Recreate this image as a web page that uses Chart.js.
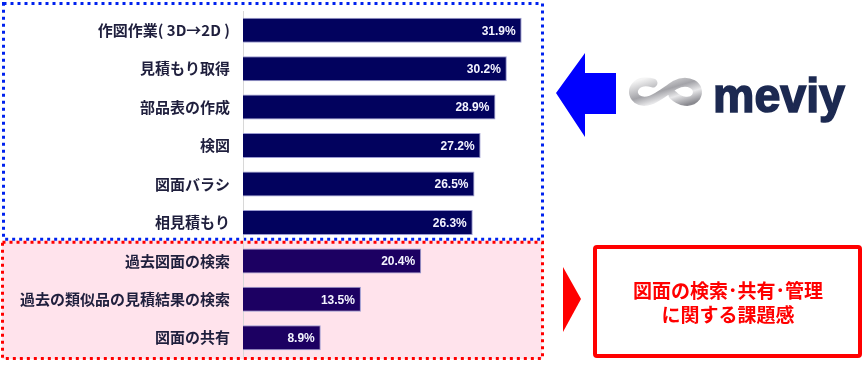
<!DOCTYPE html>
<html lang="ja">
<head>
<meta charset="utf-8">
<title>図面の検索・共有・管理に関する課題感</title>
<script src="https://cdn.jsdelivr.net/npm/chart.js@4/dist/chart.umd.min.js"></script>
<style>
    html, body { margin: 0; padding: 0; background: #ffffff; }
    #wrap { position: relative; width: 864px; height: 367px; overflow: hidden; }
    #chart { position: absolute; left: 0; top: 0; }
    #deco { position: absolute; left: 0; top: 0; }
</style>
</head>
<body>
<div id="wrap">
    <canvas id="chart" width="864" height="367"></canvas>
    <svg id="deco" width="864" height="367" viewBox="0 0 864 367">
        <defs>
            <linearGradient id="silver" x1="0" y1="0" x2="1" y2="1">
                <stop offset="0" stop-color="#f4f4f4"/>
                <stop offset="0.45" stop-color="#a3a3a8"/>
                <stop offset="0.7" stop-color="#e8e8ea"/>
                <stop offset="1" stop-color="#8a8a90"/>
            </linearGradient>
        </defs>
        <!-- blue arrow pointing at the upper group -->
        <polygon points="556,93 585,53 585,73 616,73 616,114 585,114 585,137" fill="#0000ff"/>
        <!-- meviy logo -->
        <path d="M653 83 C637 78 628 91 637 99 C648 107 662 93 675 85 C688 78 702 86 696 97 C691 104 680 102 673 95"
              fill="none" stroke="url(#silver)" stroke-width="9" stroke-linecap="round"/>
        <text x="713" y="112" font-family="'Liberation Sans', Arial, sans-serif" font-weight="bold"
              font-size="48" fill="#1c2951" stroke="#1c2951" stroke-width="1.6"
              textLength="132" lengthAdjust="spacingAndGlyphs">meviy</text>
        <!-- red marker and callout for the lower group -->
        <polygon points="563,267 581,299 563,332" fill="#ff0000"/>
        <rect x="595" y="247" width="265" height="109" rx="2" fill="#ffffff" stroke="#ff0000" stroke-width="4"/>
        <text x="728" y="298" text-anchor="middle" font-family="'Noto Sans CJK JP', sans-serif"
              font-weight="bold" font-size="19" fill="#ff0000">図面の検索･共有･管理</text>
        <text x="728" y="322" text-anchor="middle" font-family="'Noto Sans CJK JP', sans-serif"
              font-weight="bold" font-size="19" fill="#ff0000">に関する課題感</text>
    </svg>
</div>
<script>
// ===== DATA =====
const categories = [
    '作図作業( 3D→2D )',
    '見積もり取得',
    '部品表の作成',
    '検図',
    '図面バラシ',
    '相見積もり',
    '過去図面の検索',
    '過去の類似品の見積結果の検索',
    '図面の共有'
];
const values = [31.9, 30.2, 28.9, 27.2, 26.5, 26.3, 20.4, 13.5, 8.9];
// first N items belong to the upper (blue) group, the rest to the lower (red) group
const upperCount = 6;

const upperColor = '#02025e';
const lowerColor = '#1c0062';
const barColors = values.map((v, i) => i < upperCount ? upperColor : lowerColor);

const LABEL_FONT = "'Noto Sans CJK JP', 'Noto Sans CJK SC', sans-serif";

// ===== PLUGIN: GROUP BOXES (pink fill + dotted outlines) =====
const groupBoxes = {
    id: 'groupBoxes',
    beforeDraw(chart) {
        const ctx = chart.ctx;
        const y = chart.scales.y;
        const area = chart.chartArea;
        const split = (y.getPixelForValue(upperCount - 1) + y.getPixelForValue(upperCount)) / 2 - 2;
        const right = area.right + 2;

        ctx.save();
        // pink background for the lower group
        ctx.fillStyle = '#ffe3ec';
        ctx.fillRect(2, split + 1, right - 2, area.bottom - split + 1);

        ctx.lineWidth = 3;
        ctx.setLineDash([3, 4]);
        ctx.strokeStyle = '#ff0000';
        ctx.strokeRect(2.5, split + 2.5, right - 2, area.bottom - split - 1);
        ctx.strokeStyle = '#0022ee';
        ctx.strokeRect(3.5, 3.5, right - 3, split - 4);
        ctx.restore();
    }
};

// ===== PLUGIN: VALUE LABELS INSIDE BAR ENDS =====
const valueLabels = {
    id: 'valueLabels',
    afterDatasetsDraw(chart) {
        const ctx = chart.ctx;
        const meta = chart.getDatasetMeta(0);
        ctx.save();
        ctx.font = "bold 12px 'Liberation Sans', Arial, sans-serif";
        ctx.fillStyle = '#f4f4ff';
        ctx.textAlign = 'right';
        ctx.textBaseline = 'middle';
        meta.data.forEach((bar, i) => {
            ctx.fillText(values[i].toFixed(1) + '%', bar.x - 6, bar.y + 1);
        });
        ctx.restore();
    }
};

// ===== CHART =====
function initChart() {
    const ctx = document.getElementById('chart');
    return new Chart(ctx, {
        type: 'bar',
        data: {
            labels: categories,
            datasets: [{
                data: values,
                backgroundColor: barColors,
                borderColor: '#9a9ad0',
                borderWidth: 1,
                borderSkipped: 'left',
                barPercentage: 0.65,
                categoryPercentage: 1
            }]
        },
        options: {
            indexAxis: 'y',
            responsive: false,
            animation: false,
            devicePixelRatio: 1,
            layout: {
                padding: { left: 0, right: 324, top: 11, bottom: 10 }
            },
            plugins: {
                legend: { display: false },
                tooltip: { enabled: false }
            },
            scales: {
                x: {
                    display: false,
                    min: 0,
                    max: 34
                },
                y: {
                    afterFit(scale) {
                        scale.width = 243;
                        scale.paddingTop = 0;
                        scale.paddingBottom = 0;
                    },
                    grid: { display: false, drawTicks: false },
                    border: { display: true, color: '#d8d8d8', width: 1 },
                    ticks: {
                        padding: 13,
                        color: '#1f1f3d',
                        font: { family: LABEL_FONT, size: 15, weight: 'bold' }
                    }
                }
            }
        },
        plugins: [groupBoxes, valueLabels]
    });
}

initChart();
</script>
</body>
</html>
